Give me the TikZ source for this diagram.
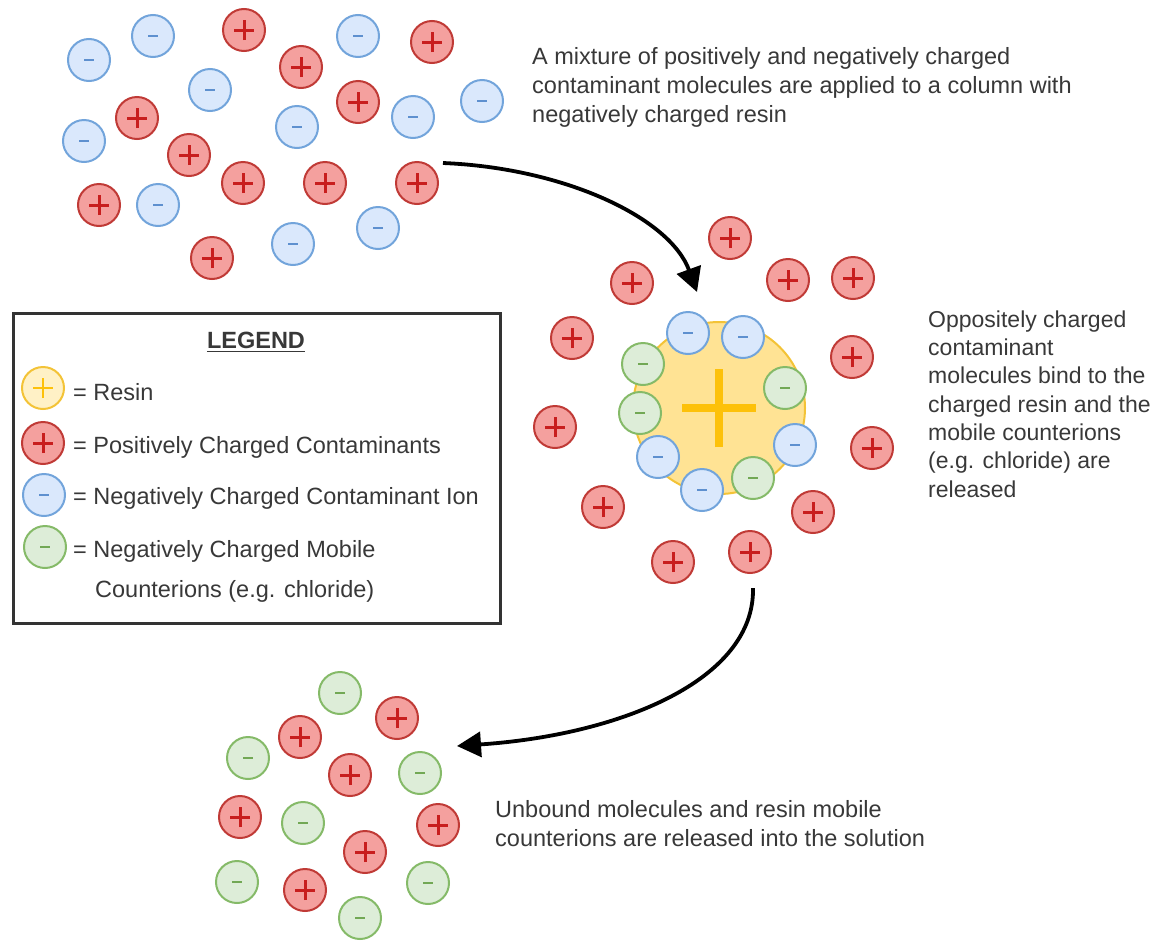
\documentclass[tikz,border=0pt]{standalone}
\usepackage{fontspec}
\setmainfont{Liberation Sans}
\usetikzlibrary{arrows.meta}
\definecolor{posfill}{HTML}{F4A09E}
\definecolor{posline}{HTML}{C03A36}
\definecolor{possign}{HTML}{C81E1E}
\definecolor{negfill}{HTML}{DAE8FC}
\definecolor{negline}{HTML}{72A4DB}
\definecolor{negsign}{HTML}{5E90CF}
\definecolor{mobfill}{HTML}{DDEDD8}
\definecolor{mobline}{HTML}{85BA68}
\definecolor{mobsign}{HTML}{72A855}
\definecolor{resfill}{HTML}{FFE394}
\definecolor{resline}{HTML}{F3C337}
\definecolor{ressign}{HTML}{FDC10A}
\definecolor{legfill}{HTML}{FFF1C6}
\definecolor{txtgray}{HTML}{383838}
\definecolor{boxline}{HTML}{333333}
\begin{document}
\begin{tikzpicture}[x=1pt,y=-1pt,
  ionbase/.style={circle, line width=2pt, minimum size=42pt, inner sep=0pt, outer sep=0pt},
  poscharge/.style={ionbase, draw=posline, fill=posfill, path picture={
    \draw[draw=possign, line width=3pt]
      ([xshift=-10pt]path picture bounding box.center) -- ([xshift=10pt]path picture bounding box.center)
      ([yshift=-10pt]path picture bounding box.center) -- ([yshift=10pt]path picture bounding box.center);}},
  negcharge/.style={ionbase, draw=negline, fill=negfill, path picture={
    \draw[draw=negsign, line width=2.6pt]
      ([xshift=-5pt]path picture bounding box.center) -- ([xshift=5pt]path picture bounding box.center);}},
  mobcharge/.style={ionbase, draw=mobline, fill=mobfill, path picture={
    \draw[draw=mobsign, line width=2.6pt]
      ([xshift=-5pt]path picture bounding box.center) -- ([xshift=5pt]path picture bounding box.center);}},
  legres/.style={ionbase, draw=resline, fill=legfill, path picture={
    \draw[draw=ressign, line width=2.6pt]
      ([xshift=-10pt]path picture bounding box.center) -- ([xshift=10pt]path picture bounding box.center)
      ([yshift=-10pt]path picture bounding box.center) -- ([yshift=10pt]path picture bounding box.center);}},
  resinball/.style={circle, line width=2pt, minimum size=172pt, inner sep=0pt, draw=resline, fill=resfill, path picture={
    \draw[draw=ressign, line width=8pt]
      ([xshift=-37pt]path picture bounding box.center) -- ([xshift=37pt]path picture bounding box.center)
      ([yshift=-39pt]path picture bounding box.center) -- ([yshift=39pt]path picture bounding box.center);}},
  desc/.style={anchor=base west, inner sep=0pt, text=txtgray, font=\fontsize{23.5}{28}\selectfont},
  flow/.style={line width=3.8pt, black, -{Triangle[length=24pt,width=25pt]}}
]
\useasboundingbox (0,0) rectangle (1153,940);

% ---- top mixture ----
\foreach \px/\py [count=\i] in {244/30, 432/42, 301/67, 358/102, 137/118, 189/155, 243/183, 325/183, 417/183, 99/205, 212/258}
  \node[poscharge] (tp\i) at (\px,\py) {};
\foreach \px/\py [count=\i] in {89/60, 153/36, 358/36, 210/90, 413/117, 482/101, 84/141, 297/127, 158/205, 378/228, 293/244}
  \node[negcharge] (tn\i) at (\px,\py) {};

% ---- middle: resin with bound ions ----
\node[resinball] (res) at (719,408) {};
\foreach \px/\py [count=\i] in {688/333, 743/337, 795/445, 658/457, 702/490}
  \node[negcharge] (mn\i) at (\px,\py) {};
\foreach \px/\py [count=\i] in {643/364, 785/388, 640/413, 753/478}
  \node[mobcharge] (mm\i) at (\px,\py) {};
\foreach \px/\py [count=\i] in {730/238, 632/283, 788/280, 853/278, 572/338, 852/357, 555/427, 872/448, 603/507, 813/512, 673/562, 750/552}
  \node[poscharge] (mp\i) at (\px,\py) {};

% ---- bottom: released ----
\foreach \px/\py [count=\i] in {340/693, 248/758, 420/773, 303/823, 237/882, 428/883, 360/918}
  \node[mobcharge] (bm\i) at (\px,\py) {};
\foreach \px/\py [count=\i] in {397/718, 300/737, 350/775, 240/817, 438/825, 365/852, 305/890}
  \node[poscharge] (bp\i) at (\px,\py) {};

% ---- arrows ----
\coordinate (a1s) at (443,163);
\coordinate (a1e) at (697,292);
\draw[flow] (a1s) .. controls (565,168) and (670,218) .. (a1e);
\coordinate (a2s) at (753,588);
\coordinate (a2e) at (457,746);
\draw[flow] (a2s) .. controls (755,680) and (620,735) .. (a2e);

% ---- descriptions ----
\node[desc] (d1a) at (532,64) {A mixture of positively and negatively charged};
\node[desc] (d1b) at (532,93.5) {contaminant molecules are applied to a column with};
\node[desc] (d1c) at (532,122.5) {negatively charged resin};

\begin{scope}[desc/.append style={font=\fontsize{23}{28}\selectfont}]
\node[desc] (d2a) at (928,327) {Oppositely charged};
\node[desc] (d2b) at (928,355.3) {contaminant};
\node[desc] (d2c) at (928,383.6) {molecules bind to the};
\node[desc] (d2d) at (928,412) {charged resin and the};
\node[desc] (d2e) at (928,440.3) {mobile counterions};
\node[desc] (d2f) at (928,468.6) {(e.g. chloride) are};
\node[desc] (d2g) at (928,497) {released};
\end{scope}

\node[desc] (d3a) at (495,817) {Unbound molecules and resin mobile};
\node[desc] (d3b) at (495,846) {counterions are released into the solution};

% ---- legend ----
\node[draw=boxline, line width=2.5pt, minimum width=487pt, minimum height=310pt, inner sep=0pt, anchor=north west] (legendbox) at (12,312) {};
\node[anchor=base, inner sep=0pt, text=txtgray, font=\fontsize{23.5}{28}\selectfont\bfseries] (lgd) at (256,348) {LEGEND};
\draw[txtgray, line width=1.8pt] ([yshift=-3.5pt]lgd.base west) -- ([yshift=-3.5pt]lgd.base east);
\node[legres] (lres) at (43,388) {};
\node[poscharge] (lpos) at (43,443) {};
\node[negcharge] (lneg) at (44,495) {};
\node[mobcharge] (lmob) at (45,547) {};
\node[desc] (l1) at (73,400) {= Resin};
\node[desc] (l2) at (73,453) {= Positively Charged Contaminants};
\node[desc] (l3) at (73,504) {= Negatively Charged Contaminant Ion};
\node[desc] (l4) at (73,557) {= Negatively Charged Mobile};
\node[desc] (l5) at (95,597) {Counterions (e.g. chloride)};
\end{tikzpicture}
\end{document}
